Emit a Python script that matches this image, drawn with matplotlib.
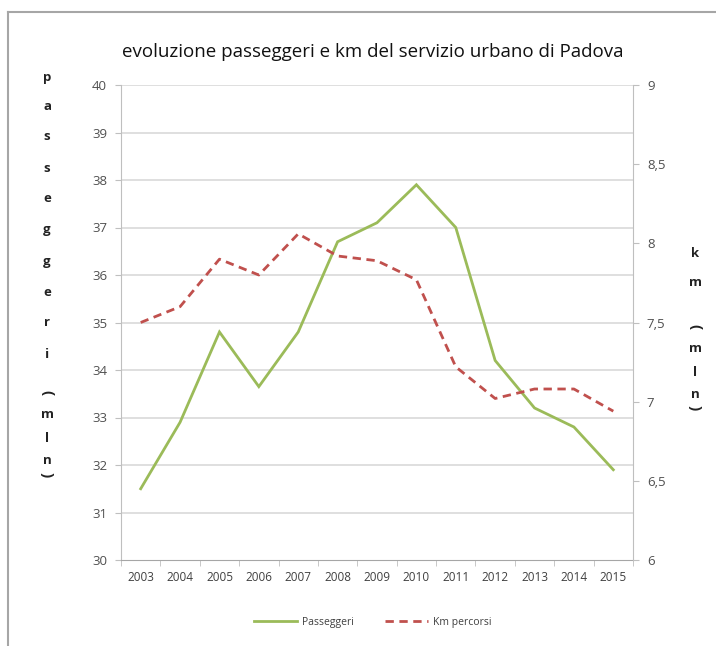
import matplotlib
matplotlib.use("Agg")
import matplotlib.pyplot as plt
from matplotlib.lines import Line2D
import numpy as np

years = ["2003", "2004", "2005", "2006", "2007", "2008", "2009", "2010",
         "2011", "2012", "2013", "2014", "2015"]
passeggeri = [31.5, 32.9, 34.8, 33.65, 34.8, 36.7, 37.1, 37.9, 37.0, 34.2, 33.2, 32.8, 31.9]
km_percorsi = [7.5, 7.6, 7.9, 7.8, 8.06, 7.92, 7.89, 7.77, 7.22, 7.02, 7.08, 7.08, 6.94]
left_ticks = [30, 31, 32, 33, 34, 35, 36, 37, 38, 39, 40]
right_ticks = [6, 6.5, 7, 7.5, 8, 8.5, 9]
right_labels = ["6", "6,5", "7", "7,5", "8", "8,5", "9"]

plt.rcParams['font.family'] = ['Open Sans', 'DejaVu Sans']

W, H = 716, 646
fig = plt.figure(figsize=(W / 100, H / 100), dpi=100)
fig.patch.set_facecolor("white")

# outer frame lines (left and top)
fig.add_artist(Line2D([8 / W, 8 / W], [0, 1 - 12 / H], color="#A6A6A6", lw=1.5))
fig.add_artist(Line2D([8 / W, 1], [1 - 12 / H, 1 - 12 / H], color="#A6A6A6", lw=1.5))

ax = fig.add_axes([121 / W, 1 - 560 / H, (633 - 121) / W, (560 - 85) / H])
x = np.arange(len(years))
grid_c = "#D9D9D9"
ax.set_xlim(-0.5, len(years) - 0.5)
ax.set_ylim(30, 40)
ax.set_yticks(left_ticks)
ax.set_yticklabels([str(t) for t in left_ticks])
for t in left_ticks[1:]:
    ax.axhline(t, color=grid_c, lw=1.2, zorder=0)

ax.set_xticks(x)
ax.set_xticklabels(years)
ax.set_xticks(np.arange(-0.5, len(years), 1.0), minor=True)
ax.tick_params(axis="x", which="major", length=0, labelsize=8.5, colors="#404040", pad=8)
ax.tick_params(axis="x", which="minor", length=4, color="#BFBFBF", direction="out")
ax.tick_params(axis="y", length=4, color="#BFBFBF", labelsize=9.5, labelcolor="#505050", pad=6)
for s in ["top", "right"]:
    ax.spines[s].set_visible(False)
ax.spines["left"].set_color("#BFBFBF")
ax.spines["bottom"].set_color("#A6A6A6")

green = "#9BBB59"
red = "#C0504D"
ax.plot(x, passeggeri, color=green, lw=2.0, zorder=3, solid_joinstyle="miter")

ax2 = ax.twinx()
ax2.set_ylim(6, 9)
ax2.set_yticks(right_ticks)
ax2.set_yticklabels(right_labels)
ax2.tick_params(axis="y", length=4, color="#BFBFBF", labelsize=9.5, labelcolor="#505050", pad=6)
for s in ["top", "left", "bottom"]:
    ax2.spines[s].set_visible(False)
ax2.spines["right"].set_color("#BFBFBF")
ax2.plot(x, km_percorsi, color=red, lw=2.0, ls=(0, (3, 2)), zorder=3)

fig.text(0.52, 1 - 52 / H, "evoluzione passeggeri e km del servizio urbano di Padova",
         ha="center", va="center", fontsize=13.5, color="#111111", fontweight="medium")

# stacked left axis label
left_chars = list("passeggeri") + ["(", "m", "l", "n", ")"]
left_y = [78, 107, 137, 168, 198, 230, 261, 292, 323, 355, 393, 414, 438, 461, 475]
for ch, yy in zip(left_chars, left_y):
    paren = ch in "()"
    fig.text(47 / W, 1 - yy / H, ch, ha="center", va="center",
             fontsize=11 if paren else 9.5,
             fontweight="bold", color="#222222", rotation=-90 if paren else 0)

right_chars = ["k", "m", "(", "m", "l", "n", ")"]
right_y = [253, 283, 327, 348, 372, 394, 408]
for ch, yy in zip(right_chars, right_y):
    paren = ch in "()"
    fig.text(695 / W, 1 - yy / H, ch, ha="center", va="center",
             fontsize=11 if paren else 9.5,
             fontweight="bold", color="#222222", rotation=-90 if paren else 0)

# legend
h1 = Line2D([], [], color=green, lw=2.0)
h2 = Line2D([], [], color=red, lw=2.0, ls=(0, (3, 2)))
fig.legend([h1, h2], ["Passeggeri", "Km percorsi"], loc="center",
           bbox_to_anchor=(0.52, 1 - 622 / H), ncol=2, frameon=False,
           fontsize=7.5, handlelength=4.2, columnspacing=3.0, handletextpad=0.4,
           labelcolor="#404040")

fig.savefig("out.png", dpi=100, facecolor="white")
